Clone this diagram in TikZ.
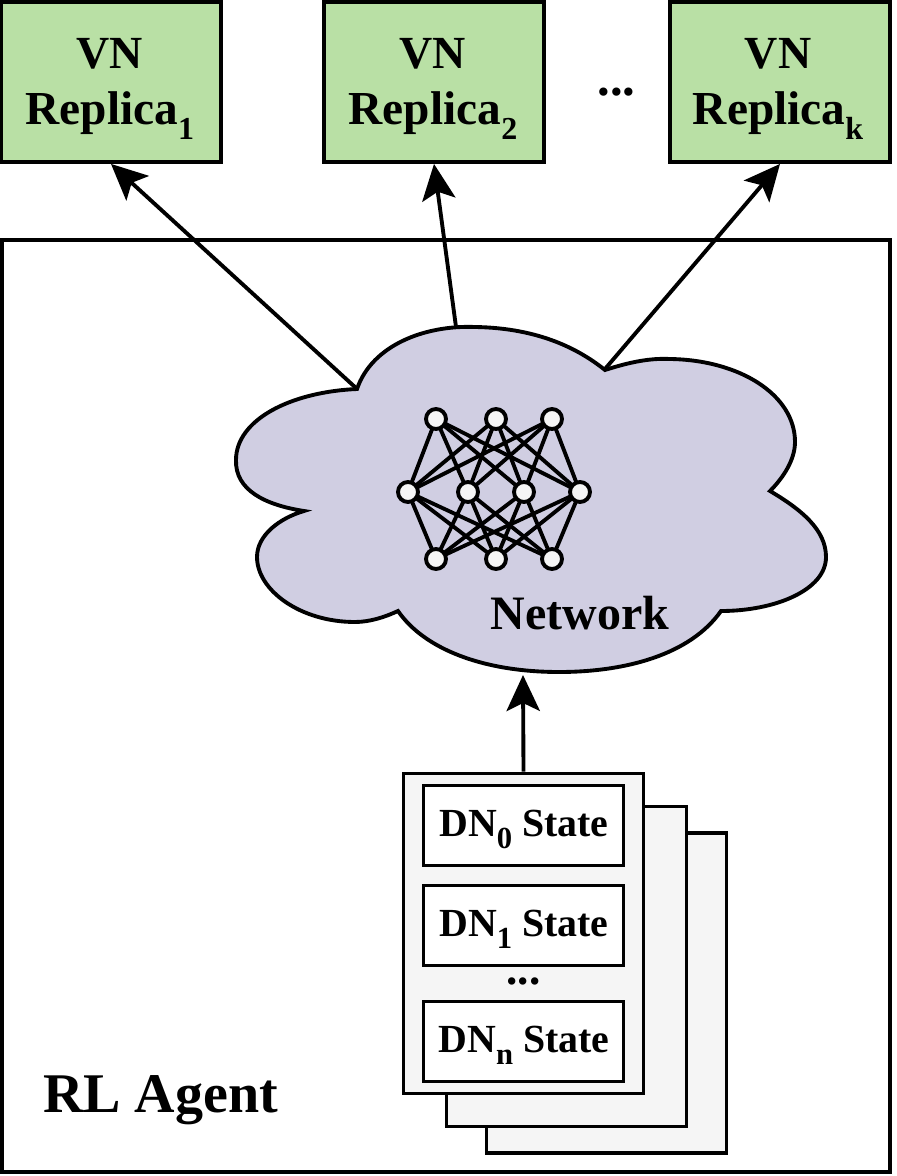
\documentclass[tikz,border=0pt]{standalone}
\usepackage{fontspec}
\setmainfont{Liberation Serif}
\usetikzlibrary{arrows.meta}
\newcommand{\subs}[2][24]{\raisebox{-0.3em}{\fontsize{#1}{#1}\selectfont #2}}
\tikzset{
  x=0.75pt,y=-0.75pt,
  line/.style={line width=2.9pt,draw=black},
  vnbox/.style={line,fill=vngreen,minimum width=165pt,minimum height=120pt,inner sep=0pt},
  vntext/.style={inner sep=0pt,align=center,font=\fontsize{35.5}{42}\selectfont\bfseries},
  sheet/.style={line,fill=sheetgray,minimum width=180pt,minimum height=240pt,inner sep=0pt},
  dnbox/.style={line,fill=white,minimum width=150pt,minimum height=60pt,inner sep=0pt},
  dntext/.style={font=\fontsize{29.9}{30}\selectfont\bfseries,inner sep=0pt},
  neuron/.style={circle,line,fill=sheetgray,minimum size=15pt,inner sep=0pt},
  link/.style={line},
  flow/.style={line,-{Stealth[length=27pt,width=25pt,inset=6pt]}},
  dots/.style={font=\fontsize{38}{38}\selectfont\bfseries,inner sep=0pt},
}
\definecolor{vngreen}{HTML}{B9E0A5}
\definecolor{sheetgray}{HTML}{F5F5F5}
\definecolor{cloudfill}{HTML}{D0CEE2}
\begin{document}
\begin{tikzpicture}
\useasboundingbox (0,0) rectangle (896,1176);
\node[line,fill=white,minimum width=666pt,minimum height=699pt,inner sep=0pt] (agent) at (446,706) {};
\node[font=\fontsize{42}{42}\selectfont\bfseries,inner sep=0pt] (agentlabel) at (160.5,1100) {RL Agent};

\node[vnbox] (vn1) at (111,82) {};
\node[vnbox] (vn2) at (434,82) {};
\node[vnbox] (vn3) at (780,82) {};
\node[vntext] (vn1t) at (110,89) {{\fontsize{34.5}{42}\selectfont VN}\\Replica\subs{1}};
\node[vntext] (vn2t) at (433,89) {{\fontsize{34.5}{42}\selectfont VN}\\Replica\subs{2}};
\node[vntext] (vn3t) at (778,89) {{\fontsize{34.5}{42}\selectfont VN}\\Replica\subs{k}};
\node[dots] (vndots) at (616.5,92) {...};

% cloud
\draw[line,fill=cloudfill] (357,389)
  .. controls (372,345) and (425,325) .. (475,327)
  .. controls (540,328) and (580,350) .. (605,370)
  .. controls (630,362) and (650,358) .. (670,359)
  .. controls (740,360) and (795,395) .. (795,442)
  .. controls (795,460) and (783,478) .. (770,491)
  .. controls (802,510) and (826,530) .. (826,557)
  .. controls (826,590) and (775,611) .. (721,611)
  .. controls (690,655) and (625,672) .. (559,672)
  .. controls (485,672) and (425,650) .. (398,611)
  .. controls (385,617) and (370,622) .. (355,622)
  .. controls (300,622) and (257,590) .. (257,557)
  .. controls (257,535) and (280,518) .. (304,511)
  .. controls (265,505) and (235,490) .. (236,460)
  .. controls (236,420) and (290,392) .. (357,389) -- cycle;
\coordinate (cloudA) at (356,388);
\coordinate (cloudB) at (456,327);
\coordinate (cloudC) at (605,369);
\coordinate (cloudD) at (523,675);
\node[font=\fontsize{36}{36}\selectfont\bfseries,inner sep=0pt] (netlabel) at (580,613) {Network};

% neural net
\foreach \n/\x in {a/436,b/496,c/552}{
  \coordinate (t\n) at (\x,419);
  \coordinate (u\n) at (\x,559);
}
\foreach \n/\x in {a/408,b/468,c/524,d/580}{
  \coordinate (m\n) at (\x,492);
}
\foreach \p in {a,b,c}{\foreach \q in {a,b,c,d}{
  \draw[link] (t\p) -- (m\q);
  \draw[link] (u\p) -- (m\q);
}}
\foreach \n in {ta,tb,tc,ma,mb,mc,md,ua,ub,uc}{
  \node[neuron] (\n n) at (\n) {};
}

% state sheets
\node[sheet] (back) at (606.5,993) {};
\node[sheet] (mid) at (566.5,966.5) {};
\node[sheet] (front) at (523.5,933.5) {};
\node[dnbox] (dn0) at (523.5,825.5) {};
\node[dnbox] (dn1) at (523.5,925.5) {};
\node[dnbox] (dnn) at (523.5,1041.5) {};
\node[dntext] (dn0t) at (524,829) {DN\subs[23]{0} State};
\node[dntext] (dn1t) at (524,929) {DN\subs[23]{1} State};
\node[dntext] (dnnt) at (524,1045) {DN\subs[23]{n} State};
\node[dots,font=\fontsize{34}{34}\selectfont\bfseries] (dndots) at (523.5,981) {...};

% arrows
\draw[flow] (cloudA) -- (vn1.south);
\draw[flow] (cloudB) -- (vn2.south);
\draw[flow] (cloudC) -- (vn3.south);
\draw[flow] (front.north) -- (cloudD);
\end{tikzpicture}
\end{document}
